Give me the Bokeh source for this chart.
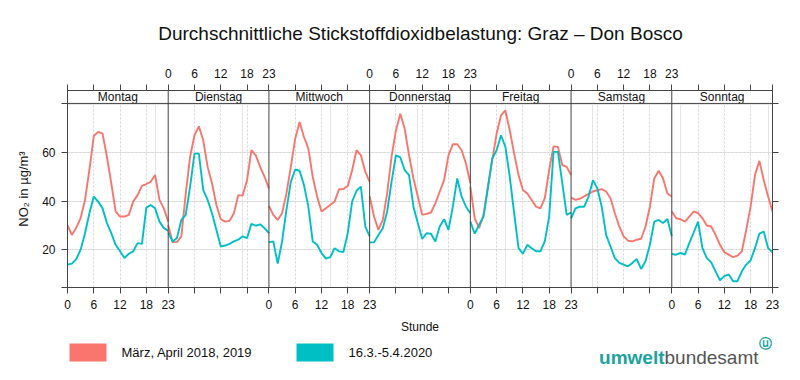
from bokeh.plotting import figure
from bokeh.layouts import column
from bokeh.models import (Range1d, FixedTicker, LinearAxis, Span, Label, BoxAnnotation, Grid)
from bokeh.embed import file_html
from bokeh.resources import INLINE
from bokeh.core.properties import value

# ---------------- data ----------------
days = ["Montag", "Dienstag", "Mittwoch", "Donnerstag", "Freitag", "Samstag", "Sonntag"]
hours = list(range(24))
hour_ticks = [0, 6, 12, 18, 23]
y_ticks = [20, 40, 60]

label_ref = "März, April 2018, 2019"
label_2020 = "16.3.-5.4.2020"

ref_montag = [30, 26, 29, 33, 40.5, 53, 67, 68.7, 68, 58.4, 47.4, 35.7, 33.6, 33.6, 34.3, 39.8, 42.5, 46.3, 47.1, 48, 50.8, 40.5, 37, 31.5]
ref_dienstag = [30, 23, 23, 25.4, 43, 58.4, 67.3, 71, 65.2, 54.2, 47.4, 38.4, 32.5, 31.5, 31.8, 35, 42.5, 42.3, 48.7, 61.1, 59, 54.2, 50.1, 45.3]
ref_mittwoch = [38, 34.3, 32.2, 35, 43.2, 54.2, 65.9, 72.8, 66.6, 61.8, 50.1, 41.9, 35.7, 37, 38.4, 39.8, 44.9, 45, 46.3, 52.8, 61.1, 59, 52.2, 48]
ref_donnerstag = [41.9, 33.6, 28.1, 32.2, 43.2, 58.4, 69.3, 76.2, 70, 59, 49.4, 41.9, 34.3, 34.7, 35.3, 39.1, 43.9, 48.7, 59, 63.6, 63.6, 61.1, 55.6, 47.4]
ref_freitag = [46, 32.9, 28.8, 34.3, 46, 57, 68, 75.5, 77.6, 69.3, 59.7, 50.8, 44.6, 43.2, 40.5, 37.7, 37, 41.2, 52.9, 62.7, 62.5, 54.9, 54.2, 50.8]
ref_samstag = [41.5, 40.5, 41, 42, 43, 44, 44.5, 45, 44, 41.2, 35, 29.5, 25.4, 23.6, 23.3, 24, 24.4, 29.5, 37.7, 49.4, 52.6, 49.4, 43.2, 41.9]
ref_sonntag = [35.7, 32.9, 32.5, 31.5, 33.6, 35.7, 35, 32.9, 29.9, 29.5, 26, 21.9, 18.8, 17.8, 16.8, 17.4, 19.2, 28.1, 37.7, 50.8, 56.7, 48.7, 41.9, 35.7]

cur_montag = [13.7, 14.1, 16, 19.9, 26.7, 35, 41.9, 39.8, 37, 30.9, 26.7, 21.9, 19.2, 16.4, 18.2, 19.2, 22.6, 22.3, 37.3, 38.4, 37, 31.5, 28.8, 27.8]
cur_dienstag = [27, 23.3, 24.7, 32.2, 34.3, 46, 59.7, 59.7, 44.6, 40.5, 35, 28.1, 21.2, 21.6, 22.3, 23.3, 24, 25.4, 24.7, 30.6, 29.8, 30.4, 28.8, 26.7]
cur_mittwoch = [22.9, 23.3, 14.1, 23.3, 36.4, 48, 53.1, 52.6, 46.7, 37.7, 23.3, 21.9, 18.5, 16.2, 16.8, 20.5, 19.2, 18.9, 26.7, 39.8, 44.3, 46, 29.5, 25.4]
cur_donnerstag = [22.9, 22.9, 26, 28.8, 35.7, 48, 59, 58.1, 52.9, 50.8, 37.7, 30.9, 24.3, 26.7, 26.5, 23.3, 29.5, 32.5, 28.1, 37.7, 49.4, 41.9, 37.7, 35]
cur_freitag = [31.5, 26.5, 30.2, 33.6, 45.3, 57.7, 61.1, 67.3, 62.5, 50.1, 35, 20.5, 18.2, 21.9, 20.5, 19.2, 19.2, 23.3, 33.6, 60.4, 60.4, 47.4, 34.3, 35.3]
cur_samstag = [32.9, 37, 37.7, 37.7, 41.9, 48.7, 45.3, 37.7, 26, 21.2, 16.4, 14.4, 13.7, 13, 14.4, 16, 11.9, 15.1, 21.9, 31.5, 32.2, 30.9, 32.6, 25.4]
cur_sonntag = [18.1, 17.8, 18.5, 17.8, 22.6, 27, 31.5, 20.5, 16.4, 14.6, 10.9, 7.2, 8.9, 9.6, 6.8, 6.8, 10.9, 13.7, 15.5, 20.5, 26.5, 27.4, 20.5, 18.8]

ref_series = [ref_montag, ref_dienstag, ref_mittwoch, ref_donnerstag, ref_freitag, ref_samstag, ref_sonntag]
cur_series = [cur_montag, cur_dienstag, cur_mittwoch, cur_donnerstag, cur_freitag, cur_samstag, cur_sonntag]

# ---------------- styling / layout ----------------
RED = "#F8766D"
CYAN = "#00BFC4"
AX = "#444444"
FONT = "Liberation Sans"
SPAN = 23                      # hours per panel (0..23)
NP = len(days)
Y0, Y1 = 4.2, 85.86            # frame y range (panel + strip)
STRIP_B = 80.5                 # strip bottom (panel top)

W = 800
H_TOP, H_MAIN, H_BOT = 50, 286, 44
FL, FR = 67, 772               # frame left/right (px)
FT, FB = 40, 238               # frame top/bottom inside the main figure (px)


def bare(height, y_len):
    # column() aligns the frames with the main figure (FL..FR), so map x to page pixels
    f = figure(width=W, height=height, output_backend="svg", toolbar_location=None,
               x_range=Range1d(FL, FR), y_range=Range1d(y_len, 0),
               x_axis_location=None, y_axis_location=None,
               min_border_left=FL, min_border_right=W - FR,
               min_border_top=0, min_border_bottom=0)
    f.outline_line_color = None
    f.xgrid.visible = False
    f.ygrid.visible = False
    f.background_fill_color = "white"
    f.border_fill_color = "white"
    return f


# ---- title strip ----
top = bare(H_TOP, H_TOP)
top.add_layout(Label(x=420, y=33, text="Durchschnittliche Stickstoffdioxidbelastung: Graz – Don Bosco",
                     text_align="center", text_baseline="middle", text_font=FONT,
                     text_font_size="19px", text_color="#111111"))

# ---- main lattice ----
p = figure(width=W, height=H_MAIN, output_backend="svg", toolbar_location=None,
           x_range=Range1d(0, SPAN * NP), y_range=Range1d(Y0, Y1),
           x_axis_location=None, y_axis_location=None,
           min_border_left=FL, min_border_right=W - FR,
           min_border_top=FT, min_border_bottom=H_MAIN - FB)
p.outline_line_color = AX
p.background_fill_color = "white"
p.border_fill_color = "white"

xg = [SPAN * d + h for d in range(NP) for h in (6, 12, 18)]
p.add_layout(Grid(dimension=0, ticker=FixedTicker(ticks=xg), grid_line_color="#d6d6d6",
                  grid_line_dash="2 2", grid_line_width=1))
p.add_layout(Grid(dimension=1, ticker=FixedTicker(ticks=y_ticks), grid_line_color="#d6d6d6",
                  grid_line_dash="2 2", grid_line_width=1))

xs = [[SPAN * d + h for h in hours] for d in range(NP)]
p.multi_line(xs=xs, ys=ref_series, line_color=RED, line_width=1.9)
p.multi_line(xs=xs, ys=cur_series, line_color=CYAN, line_width=1.9)

# strips
p.quad(left=[0], right=[SPAN * NP], bottom=[STRIP_B], top=[Y1], fill_color="white", line_color=None)
p.add_layout(Span(location=STRIP_B, dimension="width", line_color=AX, line_width=1))
p.text(x=[SPAN * d + SPAN / 2 for d in range(NP)], y=[(STRIP_B + Y1) / 2] * NP, text=days,
       text_align="center", text_baseline="middle", text_font=value(FONT),
       text_font_size="12px", text_color="#111111")
for d in range(1, NP):
    p.add_layout(Span(location=SPAN * d, dimension="height", line_color=AX, line_width=1))

xt = sorted(set(SPAN * d + h for d in range(NP) for h in hour_ticks))
bottom_labels = {t: "" for t in xt}
top_labels = {t: "" for t in xt}
for d in range(NP):
    for h in hour_ticks:
        t = SPAN * d + h
        if d % 2 == 0:
            bottom_labels[t] = str(h)
        else:
            top_labels[t] = str(h)


def style_axis(ax):
    ax.axis_line_color = AX
    ax.major_tick_line_color = AX
    ax.minor_tick_line_color = None
    ax.major_tick_in = 0
    ax.major_tick_out = 6
    ax.major_label_text_font = FONT
    ax.major_label_text_font_size = "12px"
    ax.major_label_text_color = "#111111"
    ax.axis_label_text_font = FONT
    ax.axis_label_text_font_style = "normal"
    ax.axis_label_text_color = "#111111"


bx = LinearAxis(ticker=FixedTicker(ticks=xt), major_label_overrides=bottom_labels,
                axis_label="Stunde")
style_axis(bx)
bx.major_label_standoff = 6
bx.axis_label_text_font_size = "12px"
bx.axis_label_standoff = 8
p.add_layout(bx, "below")

tx = LinearAxis(ticker=FixedTicker(ticks=xt), major_label_overrides=top_labels)
style_axis(tx)
tx.major_label_standoff = 7
p.add_layout(tx, "above")

yt = [Y0] + y_ticks + [STRIP_B]
ly = LinearAxis(ticker=FixedTicker(ticks=yt),
                major_label_overrides={Y0: "", STRIP_B: "", 20: "20", 40: "40", 60: "60"},
                axis_label="NO₂ in µg/m³")
style_axis(ly)
ly.major_label_standoff = 6
ly.axis_label_text_font_size = "13px"
ly.axis_label_standoff = 8
p.add_layout(ly, "left")

ry = LinearAxis(ticker=FixedTicker(ticks=yt), major_label_overrides={t: "" for t in yt})
style_axis(ry)
p.add_layout(ry, "right")

# ---- legend + logo strip ----
bot = bare(H_BOT, H_BOT)
for col, lab, xpx in ((RED, label_ref, 69), (CYAN, label_2020, 296)):
    bot.add_layout(BoxAnnotation(left=xpx, right=xpx + 37, top=7, bottom=25,
                                 fill_color=col, fill_alpha=1.0, line_color=None))
    bot.add_layout(Label(x=xpx + 52, y=16, text=lab, text_align="left",
                         text_baseline="middle", text_font=FONT,
                         text_font_size="13px", text_color="#111111"))

TEAL = "#1BA39E"
bot.add_layout(Label(x=664, y=21, text="umwelt", text_align="right",
                     text_baseline="alphabetic", text_font=FONT, text_font_style="bold",
                     text_font_size="19px", text_color=TEAL))
bot.add_layout(Label(x=664, y=21, text="bundesamt", text_align="left",
                     text_baseline="alphabetic", text_font=FONT,
                     text_font_size="19px", text_color="#555555"))
bot.add_layout(Label(x=765, y=7, text="ⓤ", text_align="center",
                     text_baseline="middle", text_font="DejaVu Sans", text_font_style="bold",
                     text_font_size="13px", text_color=TEAL))

layout = column(top, p, bot, spacing=0)
open("out.html", "w").write(file_html(layout, INLINE))
